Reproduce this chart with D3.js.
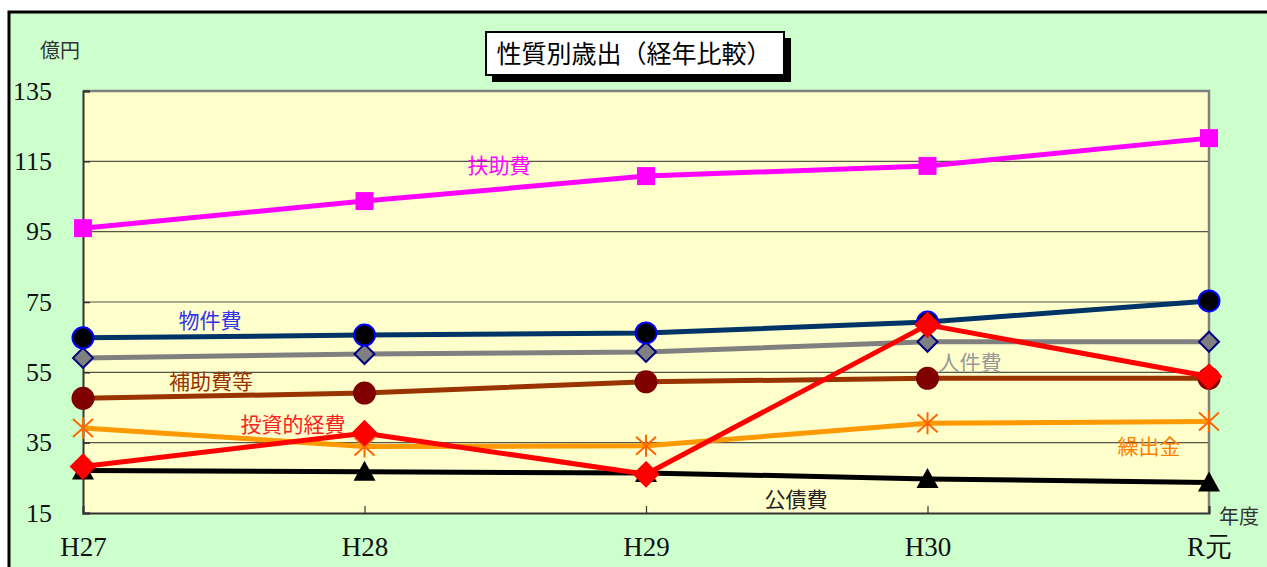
<!DOCTYPE html>
<html><head><meta charset="utf-8">
<script src="https://cdn.jsdelivr.net/npm/d3@7"></script>
<style>html,body{margin:0;padding:0;background:#fff;overflow:hidden}</style>
</head><body><svg id="c" width="1267" height="567"></svg>
<script>
const categories = ["H27","H28","H29","H30","R元"];
const yTicks = [15,35,55,75,95,115,135];
const kuridashi = [39.2,33.9,34.1,40.5,41.0];      // 繰出金
const kousai   = [27.1,26.7,26.4,24.7,23.7];       // 公債費
const jinken   = [59.1,60.2,60.8,63.7,63.7];       // 人件費
const bukken   = [64.8,65.6,66.2,69.3,75.3];       // 物件費
const fujo     = [96.0,103.7,110.8,113.7,121.6];   // 扶助費
const hojo     = [47.6,49.1,52.3,53.3,53.3];       // 補助費等
const toushi   = [28.2,37.7,26.0,68.5,53.8];       // 投資的経費
const seriesNames = ["繰出金","公債費","人件費","物件費","扶助費","補助費等","投資的経費"];

const series = [
  {name:"繰出金", v:kuridashi, line:"#FF9900", marker:"asterisk", mfill:"none", mstroke:"#FF6600", lc:"#FF8000", lx:1149, ly:446},
  {name:"公債費", v:kousai, line:"#000000", marker:"triangle", mfill:"#000", mstroke:"#000", lc:"#222", lx:796, ly:499},
  {name:"人件費", v:jinken, line:"#808080", marker:"diamond", mfill:"#808080", mstroke:"#000080", lc:"#999999", lx:970, ly:362, ms:20},
  {name:"物件費", v:bukken, line:"#003366", marker:"circle", mfill:"#000", mstroke:"#0000FF", lc:"#3333EE", lx:210, ly:320},
  {name:"扶助費", v:fujo, line:"#FF00FF", marker:"square", mfill:"#FF00FF", mstroke:"#FF00FF", lc:"#FF00FF", lx:499, ly:165},
  {name:"補助費等", v:hojo, line:"#993300", marker:"circle2", mfill:"#800000", mstroke:"#800000", lc:"#993300", lx:211, ly:381},
  {name:"投資的経費", v:toushi, line:"#FF0000", marker:"diamond", mfill:"#FF0000", mstroke:"#FF0000", lc:"#FF2020", lx:293, ly:424, ms:24}
];

const svg = d3.select("#c");
svg.append("rect").attr("x",9).attr("y",12).attr("width",1300).attr("height",600)
  .attr("fill","#CCFFCC").attr("stroke","#000").attr("stroke-width",3);

const x = d3.scalePoint().domain(categories).range([83,1209]).padding(0);
const y = d3.scaleLinear().domain([15,135]).range([513,91]);

svg.append("rect").attr("x",83).attr("y",91).attr("width",1126).attr("height",422).attr("fill","#FFFFCC");
svg.append("g").selectAll("line").data(yTicks.filter(t=>t>15 && t<135)).join("line")
  .attr("x1",83).attr("x2",1209).attr("y1",d=>y(d)).attr("y2",d=>y(d))
  .attr("stroke","#55554a").attr("stroke-width",1.2);
svg.append("path").attr("d",`M83,${y(135)}H1209V513`).attr("fill","none").attr("stroke","#808080").attr("stroke-width",2.5);

const fontSerif = "Liberation Serif";
const fontJP = "Noto Sans CJK JP";

const ya = svg.append("g").attr("transform","translate(83,0)")
  .call(d3.axisLeft(y).tickValues(yTicks).tickSize(-7).tickPadding(31).tickFormat(d3.format("d")));
ya.attr("font-family",fontSerif).attr("font-size",26);
ya.select(".domain").attr("stroke","#333").attr("stroke-width",2);
ya.selectAll(".tick line").attr("stroke","#333").attr("stroke-width",1.5);
ya.selectAll("text").style("font-family",fontSerif).style("font-size","26px").attr("fill","#111");

const xa = svg.append("g").attr("transform","translate(0,513)")
  .call(d3.axisBottom(x).tickSize(-7).tickPadding(24));
xa.attr("font-family",fontSerif).attr("font-size",27);
xa.select(".domain").attr("stroke","#333").attr("stroke-width",2);
xa.selectAll(".tick line").attr("stroke","#333").attr("stroke-width",1.2);
xa.selectAll("text").style("font-family",fontSerif).style("font-size","27px").attr("fill","#111");

svg.append("text").attr("x",40).attr("y",58).text("億円").attr("font-family",fontJP).attr("font-size",20).attr("fill","#333");
svg.append("text").attr("x",1219).attr("y",524).text("年度").attr("font-family",fontJP).attr("font-size",20).attr("fill","#333");

svg.append("rect").attr("x",492).attr("y",38).attr("width",299).attr("height",44).attr("fill","#000");
svg.append("rect").attr("x",486).attr("y",32).attr("width",298).attr("height",43).attr("fill","#fff").attr("stroke","#000").attr("stroke-width",2);
svg.append("text").attr("x",634).attr("y",63).attr("text-anchor","middle").text("性質別歳出（経年比較）")
  .attr("font-family",fontJP).attr("font-size",25).attr("font-weight",400).attr("fill","#000");

const line = d3.line().x((d,i)=>x(categories[i])).y(d=>y(d));

function marker(g, s){
  const pts = s.v.map((d,i)=>[x(categories[i]), y(d)]);
  const sel = g.selectAll("g.m").data(pts).join("g").attr("transform",d=>`translate(${d[0]},${d[1]})`);
  if (s.marker==="square"){
    sel.append("rect").attr("x",-9).attr("y",-9).attr("width",18).attr("height",18).attr("fill",s.mfill);
  } else if (s.marker==="circle"){
    sel.append("circle").attr("r",10.5).attr("fill",s.mfill).attr("stroke",s.mstroke).attr("stroke-width",2);
  } else if (s.marker==="circle2"){
    sel.append("circle").attr("r",11.5).attr("fill",s.mfill);
  } else if (s.marker==="diamond"){
    const h = s.ms/2;
    sel.append("path").attr("d",`M0,${-h}L${h},0L0,${h}L${-h},0Z`).attr("fill",s.mfill).attr("stroke",s.mstroke).attr("stroke-width",2);
  } else if (s.marker==="triangle"){
    sel.append("path").attr("d","M0,-11L11,9L-11,9Z").attr("fill",s.mfill);
  } else if (s.marker==="asterisk"){
    sel.append("path").attr("d","M0,-11V11M-10,-9L10,9M-10,9L10,-9").attr("stroke",s.mstroke).attr("stroke-width",2).attr("fill","none");
  }
}

series.forEach(s=>{
  const g = svg.append("g");
  g.append("path").datum(s.v).attr("d",line).attr("fill","none").attr("stroke",s.line).attr("stroke-width",5).attr("stroke-linejoin","round");
  marker(g, s);
});

series.forEach(s=>{
  svg.append("text").attr("x",s.lx).attr("y",s.ly).attr("dy","0.36em").attr("text-anchor","middle").text(s.name)
    .attr("font-family",fontJP).attr("font-size",21).attr("fill",s.lc);
});
</script></body></html>
